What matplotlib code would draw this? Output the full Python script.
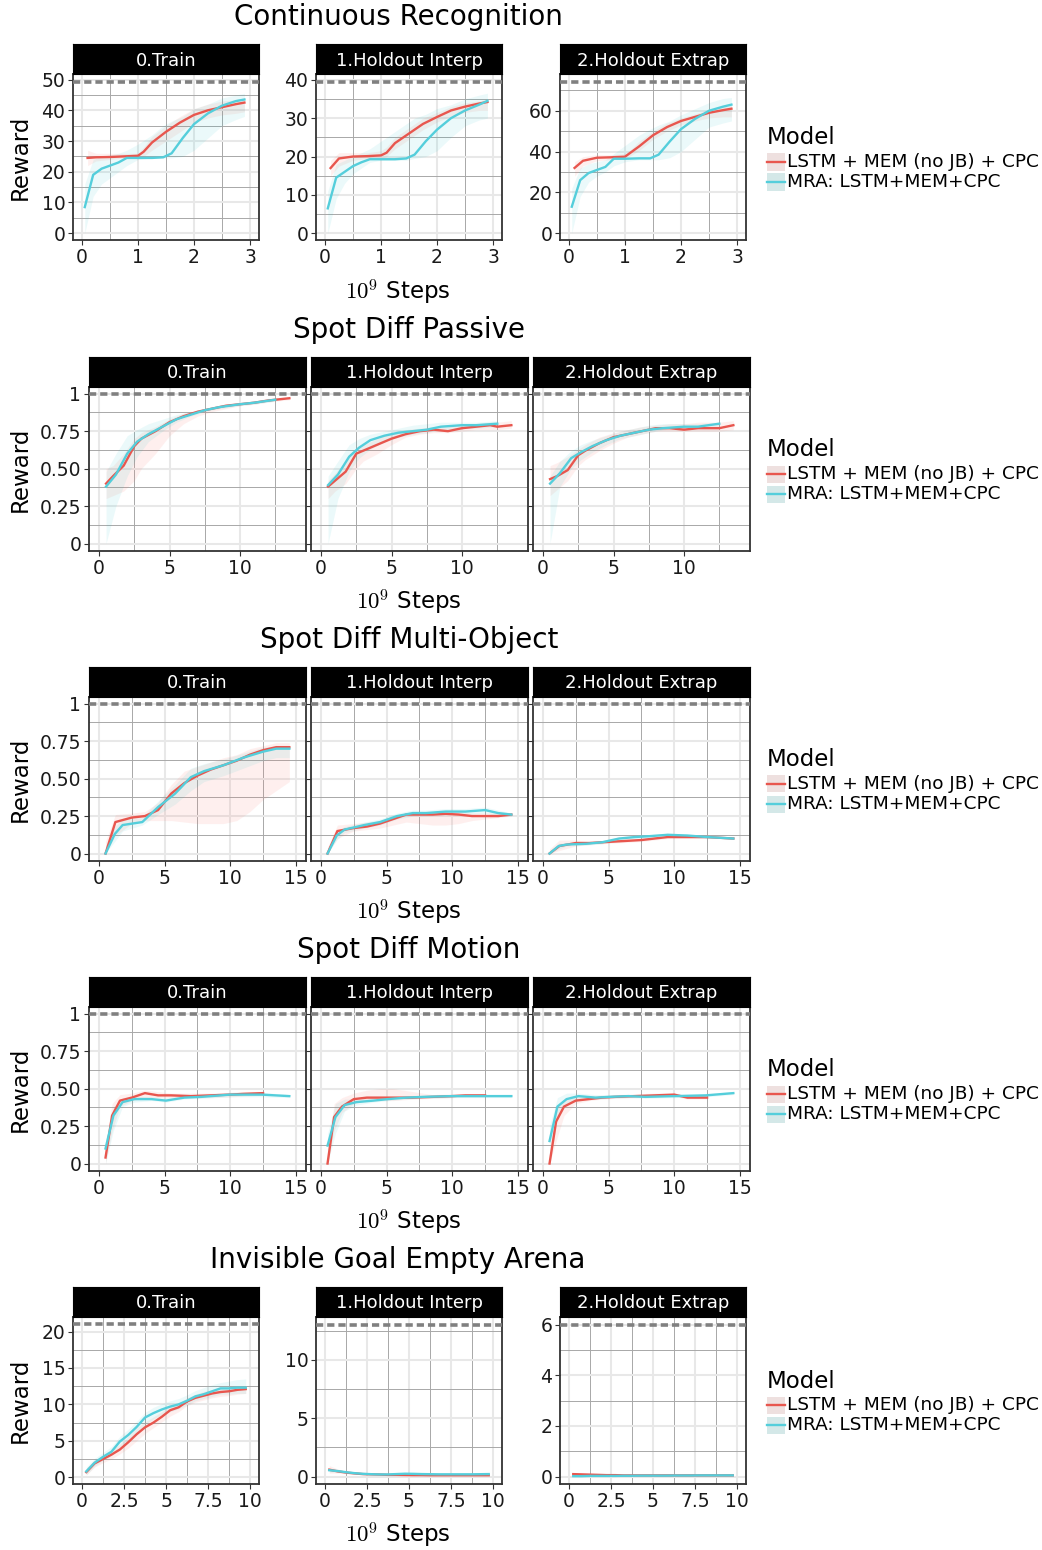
import matplotlib
matplotlib.use('Agg')
import matplotlib.pyplot as plt
from matplotlib.patches import Rectangle
from matplotlib.lines import Line2D

plt.rcParams.update({'font.family': 'DejaVu Sans', 'mathtext.fontset': 'cm'})

W, H = 1042, 1550
RED, CYAN = '#e8564e', '#54cedb'
RED_FILL, CYAN_FILL = '#f8766d', '#00bfc4'

models = ['LSTM + MEM (no JB) + CPC', 'MRA: LSTM+MEM+CPC']
facets = ['0.Train', '1.Holdout Interp', '2.Holdout Extrap']
tasks = ['Continuous Recognition', 'Spot Diff Passive', 'Spot Diff Multi-Object',
         'Spot Diff Motion', 'Invisible Goal Empty Arena']

# ---- Continuous Recognition ----
cr_x_red = [0.1, 0.25, 0.5, 0.75, 1.0, 1.1, 1.25, 1.5, 1.75, 2.0, 2.25, 2.5, 2.75, 2.9]
cr_x_cyan = [0.05, 0.2, 0.35, 0.5, 0.65, 0.8, 1.0, 1.25, 1.45, 1.6, 1.8, 2.0, 2.25, 2.5, 2.75, 2.9]
cr_ref = [49.2, 39.4, 74.0]

cr0_red = [24.5, 24.7, 24.8, 25.0, 25.2, 26.5, 29.5, 33, 36, 38.5, 40, 41, 42, 42.5]
cr0_red_lo = [22, 23.5, 24, 24.5, 24.5, 25, 27, 30, 33, 36, 37.5, 38.5, 39, 39.5]
cr0_red_hi = [27, 26, 26, 26, 26, 28, 31.5, 35, 38, 40.5, 42, 43, 43.5, 44]
cr0_cyan = [8.5, 19, 21, 22, 23, 24.5, 24.5, 24.5, 24.7, 26, 31, 35.5, 39, 41.5, 43, 43.5]
cr0_cyan_lo = [0, 12, 16, 18, 20, 22, 24, 24.5, 24.5, 24.5, 25, 27, 31, 35, 37, 38]
cr0_cyan_hi = [16, 24, 25, 25.5, 26, 27, 29, 32, 35, 36.5, 38, 40.5, 42, 44, 45, 45.5]

cr1_red = [17, 19.5, 20, 20.1, 20.3, 21, 23.5, 26, 28.5, 30.3, 32, 33, 33.8, 34.2]
cr1_red_lo = [15, 17.5, 19, 19.5, 19.5, 20, 22, 24.5, 27, 29, 30.5, 31.5, 32, 32]
cr1_red_hi = [19, 21, 21, 21, 21.5, 22.5, 25, 27.5, 30, 31.5, 33, 34, 34.5, 35]
cr1_cyan = [6.5, 14.5, 16, 17.5, 18.5, 19.3, 19.3, 19.3, 19.5, 20.5, 24, 27, 30, 32, 33.5, 34.5]
cr1_cyan_lo = [0, 9, 13, 15.5, 17, 18.5, 19, 19, 19, 19.5, 20, 21.5, 25, 28, 29.5, 30]
cr1_cyan_hi = [11, 18, 19, 20, 21, 22, 24, 26.5, 28.5, 30, 31, 32.5, 33.5, 35, 36, 36.5]

cr2_red = [32, 35.5, 37, 37.2, 37.5, 39.5, 42.5, 48, 52, 55, 57, 59, 60.3, 61]
cr2_red_lo = [28, 33, 35.5, 36, 36.5, 38, 40.5, 46, 50, 53, 55, 56.5, 57, 57]
cr2_red_hi = [35, 37.5, 38.5, 38.5, 39, 41, 45, 50, 54, 56.5, 58.5, 60.5, 62, 62.5]
cr2_cyan = [13, 26, 29.5, 31, 32.5, 36.5, 36.5, 36.7, 36.7, 38.5, 45, 51, 56, 60, 62, 63]
cr2_cyan_lo = [0, 18, 25, 28, 30, 33, 35, 36, 36, 36, 37, 40, 46, 52, 54, 55]
cr2_cyan_hi = [22, 32, 34, 35, 36, 39, 43, 48, 51, 53, 55, 58, 61, 64, 66, 66.5]

# ---- Spot Diff Passive ----
sdp_x_red = [0.5, 1, 1.75, 2.5, 3, 4, 5, 6, 7, 8, 9, 10, 11, 12, 12.5, 13.5]
sdp_x_cyan = [0.5, 1.2, 2, 2.7, 3.5, 4.5, 5.5, 6.5, 7.5, 8.5, 10, 11, 12.5]

sdp0_red = [0.40, 0.45, 0.52, 0.65, 0.70, 0.75, 0.81, 0.85, 0.88, 0.90, 0.92, 0.93, 0.94, 0.955, 0.96, 0.97]
sdp0_red_lo = [0.30, 0.32, 0.35, 0.42, 0.50, 0.60, 0.72, 0.80, 0.85, 0.88, 0.90, 0.92, 0.93, 0.945, 0.95, 0.96]
sdp0_red_hi = [0.50, 0.52, 0.60, 0.70, 0.74, 0.78, 0.83, 0.87, 0.89, 0.91, 0.93, 0.94, 0.95, 0.965, 0.97, 0.98]
sdp0_cyan = [0.38, 0.46, 0.60, 0.68, 0.73, 0.78, 0.83, 0.86, 0.89, 0.91, 0.93, 0.94, 0.96]
sdp0_cyan_lo = [0.0, 0.25, 0.45, 0.58, 0.68, 0.75, 0.81, 0.85, 0.88, 0.90, 0.92, 0.93, 0.95]
sdp0_cyan_hi = [0.48, 0.60, 0.72, 0.76, 0.80, 0.83, 0.86, 0.88, 0.90, 0.92, 0.94, 0.95, 0.97]

sdp1_red = [0.38, 0.42, 0.48, 0.60, 0.62, 0.66, 0.70, 0.73, 0.75, 0.76, 0.75, 0.77, 0.78, 0.79, 0.78, 0.79]
sdp1_red_lo = [0.30, 0.35, 0.40, 0.50, 0.55, 0.60, 0.66, 0.71, 0.73, 0.74, 0.74, 0.75, 0.76, 0.76, 0.76, 0.77]
sdp1_red_hi = [0.42, 0.47, 0.55, 0.64, 0.66, 0.70, 0.74, 0.76, 0.77, 0.78, 0.78, 0.79, 0.80, 0.81, 0.81, 0.82]
sdp1_cyan = [0.39, 0.46, 0.58, 0.64, 0.69, 0.72, 0.74, 0.75, 0.76, 0.78, 0.79, 0.79, 0.80]
sdp1_cyan_lo = [0.0, 0.30, 0.48, 0.57, 0.63, 0.68, 0.71, 0.73, 0.74, 0.76, 0.77, 0.77, 0.78]
sdp1_cyan_hi = [0.45, 0.55, 0.66, 0.70, 0.73, 0.75, 0.77, 0.79, 0.80, 0.81, 0.81, 0.81, 0.82]

sdp2_red = [0.43, 0.45, 0.49, 0.59, 0.62, 0.67, 0.71, 0.73, 0.75, 0.77, 0.77, 0.76, 0.77, 0.77, 0.77, 0.79]
sdp2_red_lo = [0.32, 0.36, 0.42, 0.52, 0.56, 0.62, 0.67, 0.71, 0.73, 0.75, 0.75, 0.75, 0.75, 0.75, 0.75, 0.76]
sdp2_red_hi = [0.52, 0.54, 0.58, 0.63, 0.66, 0.71, 0.74, 0.76, 0.78, 0.79, 0.80, 0.80, 0.81, 0.81, 0.81, 0.82]
sdp2_cyan = [0.40, 0.47, 0.57, 0.61, 0.65, 0.69, 0.72, 0.74, 0.76, 0.77, 0.78, 0.78, 0.80]
sdp2_cyan_lo = [0.0, 0.38, 0.50, 0.56, 0.61, 0.66, 0.70, 0.72, 0.74, 0.76, 0.77, 0.77, 0.78]
sdp2_cyan_hi = [0.45, 0.55, 0.62, 0.66, 0.69, 0.72, 0.75, 0.77, 0.79, 0.80, 0.80, 0.80, 0.81]

# ---- Spot Diff Multi-Object ----
sdm_x_red = [0.5, 1.25, 2.5, 3.5, 4.5, 5.5, 6.5, 7.5, 8.5, 9.5, 10.5, 11.5, 12.5, 13.5, 14.5]
sdm_x_cyan = [0.5, 1.2, 1.8, 3.3, 4.5, 5.8, 7.0, 8.0, 9.5, 11, 12.5, 13.5, 14.5]

sdm0_red = [0.0, 0.21, 0.24, 0.25, 0.29, 0.40, 0.47, 0.52, 0.56, 0.59, 0.62, 0.66, 0.69, 0.71, 0.71]
sdm0_red_lo = [0.0, 0.12, 0.20, 0.22, 0.22, 0.22, 0.21, 0.20, 0.20, 0.20, 0.22, 0.28, 0.36, 0.42, 0.48]
sdm0_red_hi = [0.08, 0.26, 0.27, 0.28, 0.34, 0.46, 0.55, 0.58, 0.61, 0.64, 0.66, 0.70, 0.72, 0.74, 0.74]
sdm0_cyan = [0.0, 0.13, 0.19, 0.21, 0.31, 0.40, 0.51, 0.55, 0.59, 0.64, 0.68, 0.70, 0.70]
sdm0_cyan_lo = [0.0, 0.08, 0.15, 0.19, 0.26, 0.33, 0.42, 0.48, 0.52, 0.57, 0.62, 0.64, 0.64]
sdm0_cyan_hi = [0.05, 0.18, 0.23, 0.24, 0.35, 0.46, 0.57, 0.60, 0.63, 0.67, 0.71, 0.72, 0.72]

sdm1_red = [0.0, 0.15, 0.17, 0.18, 0.20, 0.23, 0.26, 0.26, 0.26, 0.265, 0.26, 0.25, 0.25, 0.25, 0.26]
sdm1_red_lo = [0.0, 0.10, 0.15, 0.16, 0.17, 0.19, 0.21, 0.20, 0.19, 0.19, 0.20, 0.22, 0.23, 0.24, 0.25]
sdm1_red_hi = [0.04, 0.19, 0.20, 0.21, 0.22, 0.25, 0.27, 0.28, 0.28, 0.28, 0.28, 0.27, 0.27, 0.27, 0.27]
sdm1_cyan = [0.0, 0.12, 0.16, 0.19, 0.21, 0.25, 0.27, 0.27, 0.28, 0.28, 0.29, 0.27, 0.26]
sdm1_cyan_lo = [0.0, 0.09, 0.14, 0.17, 0.19, 0.23, 0.25, 0.25, 0.26, 0.26, 0.27, 0.25, 0.25]
sdm1_cyan_hi = [0.03, 0.15, 0.18, 0.21, 0.23, 0.27, 0.29, 0.29, 0.30, 0.30, 0.31, 0.29, 0.27]

sdm2_red = [0.0, 0.05, 0.07, 0.07, 0.075, 0.08, 0.085, 0.09, 0.10, 0.11, 0.11, 0.11, 0.11, 0.105, 0.10]
sdm2_red_lo = [0.0, 0.02, 0.05, 0.06, 0.065, 0.07, 0.075, 0.08, 0.09, 0.10, 0.10, 0.10, 0.10, 0.10, 0.095]
sdm2_red_hi = [0.03, 0.09, 0.09, 0.08, 0.085, 0.09, 0.095, 0.10, 0.11, 0.12, 0.12, 0.12, 0.12, 0.11, 0.105]
sdm2_cyan = [0.0, 0.05, 0.06, 0.065, 0.075, 0.10, 0.11, 0.115, 0.125, 0.12, 0.11, 0.105, 0.10]
sdm2_cyan_lo = [0.0, 0.03, 0.05, 0.055, 0.065, 0.09, 0.10, 0.105, 0.115, 0.11, 0.10, 0.10, 0.095]
sdm2_cyan_hi = [0.02, 0.07, 0.07, 0.075, 0.085, 0.11, 0.12, 0.125, 0.135, 0.13, 0.12, 0.11, 0.105]

# ---- Spot Diff Motion ----
sdmo_x_red = [0.5, 1.0, 1.6, 2.5, 3.5, 4.5, 5.5, 7, 8.5, 10, 11, 12.5]
sdmo_x_cyan = [0.5, 1.1, 1.8, 2.7, 4.0, 5.1, 6.5, 7.8, 10, 12.4, 14.5]

sdmo0_red = [0.04, 0.32, 0.42, 0.44, 0.47, 0.455, 0.455, 0.45, 0.455, 0.46, 0.465, 0.47]
sdmo0_red_lo = [0.0, 0.22, 0.38, 0.42, 0.44, 0.44, 0.44, 0.44, 0.44, 0.445, 0.45, 0.455]
sdmo0_red_hi = [0.12, 0.40, 0.46, 0.47, 0.49, 0.48, 0.47, 0.47, 0.47, 0.475, 0.48, 0.48]
sdmo0_cyan = [0.10, 0.32, 0.41, 0.43, 0.43, 0.42, 0.44, 0.445, 0.46, 0.46, 0.45]
sdmo0_cyan_lo = [0.0, 0.22, 0.38, 0.41, 0.42, 0.41, 0.43, 0.435, 0.445, 0.445, 0.44]
sdmo0_cyan_hi = [0.16, 0.38, 0.44, 0.45, 0.445, 0.44, 0.45, 0.46, 0.475, 0.475, 0.46]

sdmo1_red = [0.0, 0.31, 0.38, 0.43, 0.44, 0.44, 0.44, 0.44, 0.445, 0.45, 0.455, 0.455]
sdmo1_red_lo = [0.0, 0.22, 0.34, 0.40, 0.42, 0.42, 0.42, 0.43, 0.435, 0.44, 0.445, 0.445]
sdmo1_red_hi = [0.05, 0.40, 0.44, 0.47, 0.49, 0.50, 0.50, 0.48, 0.46, 0.465, 0.465, 0.465]
sdmo1_cyan = [0.12, 0.31, 0.39, 0.41, 0.42, 0.43, 0.44, 0.445, 0.45, 0.45, 0.45]
sdmo1_cyan_lo = [0.0, 0.20, 0.35, 0.39, 0.41, 0.42, 0.43, 0.435, 0.44, 0.44, 0.44]
sdmo1_cyan_hi = [0.20, 0.40, 0.43, 0.43, 0.44, 0.44, 0.45, 0.455, 0.46, 0.46, 0.46]

sdmo2_red = [0.0, 0.28, 0.38, 0.42, 0.43, 0.44, 0.445, 0.45, 0.455, 0.46, 0.44, 0.44]
sdmo2_red_lo = [0.0, 0.15, 0.32, 0.40, 0.42, 0.43, 0.435, 0.44, 0.445, 0.45, 0.43, 0.43]
sdmo2_red_hi = [0.05, 0.38, 0.43, 0.45, 0.45, 0.455, 0.46, 0.465, 0.47, 0.47, 0.45, 0.45]
sdmo2_cyan = [0.15, 0.38, 0.43, 0.45, 0.44, 0.445, 0.45, 0.445, 0.45, 0.455, 0.47]
sdmo2_cyan_lo = [0.0, 0.30, 0.40, 0.43, 0.43, 0.435, 0.44, 0.435, 0.44, 0.445, 0.46]
sdmo2_cyan_hi = [0.25, 0.44, 0.47, 0.47, 0.46, 0.46, 0.46, 0.455, 0.46, 0.465, 0.48]

# ---- Invisible Goal Empty Arena ----
ig_x = [0.25, 0.75, 1.25, 1.75, 2.25, 2.75, 3.25, 3.75, 4.25, 4.75,
        5.25, 5.75, 6.25, 6.75, 7.25, 7.75, 8.25, 8.75, 9.25, 9.75]
ig_ref = [21.0, 13.0, 6.0]

ig0_red = [0.7, 1.9, 2.5, 3.1, 3.8, 4.8, 5.9, 6.85, 7.5, 8.3, 9.2, 9.6, 10.4, 10.9, 11.2, 11.5, 11.7, 11.8, 12.0, 12.1]
ig0_red_lo = [0.3, 1.4, 2.0, 2.5, 3.2, 4.0, 5.0, 6.0, 6.8, 7.6, 8.4, 9.0, 9.8, 10.3, 10.6, 10.9, 11.1, 11.2, 11.4, 11.5]
ig0_red_hi = [1.2, 2.4, 3.0, 3.7, 4.5, 5.6, 6.8, 7.6, 8.3, 9.0, 9.8, 10.2, 10.9, 11.4, 11.8, 12.0, 12.2, 12.3, 12.5, 12.6]
ig0_cyan = [0.8, 2.0, 2.8, 3.5, 4.9, 5.8, 6.9, 8.2, 8.8, 9.3, 9.7, 10.0, 10.5, 11.1, 11.4, 11.8, 12.2, 12.2, 12.3, 12.3]
ig0_cyan_lo = [0.3, 1.5, 2.3, 3.0, 4.2, 5.1, 6.1, 7.2, 8.0, 8.6, 9.0, 9.4, 9.9, 10.5, 10.8, 11.1, 11.4, 11.4, 11.5, 11.5]
ig0_cyan_hi = [1.4, 2.6, 3.4, 4.2, 5.6, 6.6, 7.7, 8.9, 9.6, 10.1, 10.5, 10.8, 11.3, 11.9, 12.3, 12.7, 13.0, 13.2, 13.4, 13.5]

ig1_red = [0.6, 0.45, 0.35, 0.28, 0.22, 0.2, 0.18, 0.15, 0.15, 0.14, 0.13, 0.13, 0.12, 0.12, 0.12, 0.12, 0.12, 0.12, 0.12, 0.12]
ig1_red_lo = [0.3, 0.3, 0.25, 0.2, 0.16, 0.14, 0.12, 0.1, 0.1, 0.09, 0.08, 0.08, 0.07, 0.07, 0.07, 0.07, 0.07, 0.07, 0.07, 0.07]
ig1_red_hi = [0.95, 0.65, 0.45, 0.36, 0.28, 0.26, 0.24, 0.2, 0.2, 0.19, 0.18, 0.18, 0.17, 0.17, 0.17, 0.17, 0.17, 0.17, 0.17, 0.17]
ig1_cyan = [0.55, 0.48, 0.38, 0.3, 0.24, 0.21, 0.19, 0.19, 0.22, 0.25, 0.24, 0.22, 0.21, 0.2, 0.2, 0.2, 0.2, 0.2, 0.21, 0.22]
ig1_cyan_lo = [0.4, 0.38, 0.3, 0.23, 0.18, 0.16, 0.14, 0.14, 0.16, 0.19, 0.18, 0.17, 0.16, 0.15, 0.15, 0.15, 0.15, 0.15, 0.16, 0.17]
ig1_cyan_hi = [0.7, 0.58, 0.46, 0.37, 0.3, 0.26, 0.24, 0.24, 0.28, 0.31, 0.3, 0.27, 0.26, 0.25, 0.25, 0.25, 0.25, 0.25, 0.26, 0.27]

ig2_red = [0.1, 0.09, 0.08, 0.07, 0.06, 0.06, 0.05, 0.05, 0.05, 0.05, 0.05, 0.05, 0.05, 0.05, 0.05, 0.05, 0.05, 0.05, 0.05, 0.05]
ig2_red_lo = [0.07, 0.06, 0.05, 0.04, 0.03, 0.03, 0.03, 0.03, 0.03, 0.03, 0.03, 0.03, 0.03, 0.03, 0.03, 0.03, 0.03, 0.03, 0.03, 0.03]
ig2_red_hi = [0.13, 0.12, 0.11, 0.1, 0.09, 0.09, 0.08, 0.08, 0.08, 0.08, 0.08, 0.08, 0.08, 0.08, 0.08, 0.08, 0.08, 0.08, 0.08, 0.08]
ig2_cyan = [0.02, 0.02, 0.03, 0.03, 0.03, 0.03, 0.035, 0.035, 0.04, 0.04, 0.04, 0.04, 0.045, 0.045, 0.045, 0.05, 0.05, 0.05, 0.05, 0.05]
ig2_cyan_lo = [0.0, 0.0, 0.01, 0.01, 0.01, 0.01, 0.015, 0.015, 0.02, 0.02, 0.02, 0.02, 0.025, 0.025, 0.025, 0.03, 0.03, 0.03, 0.03, 0.03]
ig2_cyan_hi = [0.04, 0.04, 0.05, 0.05, 0.05, 0.05, 0.055, 0.055, 0.06, 0.06, 0.06, 0.06, 0.065, 0.065, 0.065, 0.07, 0.07, 0.07, 0.07, 0.07]

fig = plt.figure(figsize=(W / 100, H / 100), dpi=100)


def box(x0, y0, x1, y1):
    return [x0 / W, 1 - y1 / H, (x1 - x0) / W, (y1 - y0) / H]


def mids(t):
    step = t[1] - t[0]
    return [t[0] - step / 2] + [v + step / 2 for v in t]


def draw_panel(xs, top, bot, name, xlim, ylim, xt, xtl, yt, ytl, ref,
               xr, r, rlo, rhi, xc, c, clo, chi):
    ax = fig.add_axes(box(xs[0], top, xs[1], bot))
    ax.fill_between(xr, rlo, rhi, color=RED_FILL, alpha=0.11, lw=0, zorder=2)
    ax.fill_between(xc, clo, chi, color=CYAN_FILL, alpha=0.08, lw=0, zorder=2)
    ax.plot(xr, r, color=RED, lw=1.7, zorder=4)
    ax.plot(xc, c, color=CYAN, lw=1.7, zorder=4)
    ax.axhline(ref, color='#808080', lw=2.6, ls=(0, (2, 1.1)), zorder=5)
    ax.set_xticks(xt)
    ax.set_xticklabels(xtl)
    ax.set_yticks(yt)
    ax.set_yticklabels(ytl if ytl is not None else [])
    ax.set_xticks(mids(xt), minor=True)
    ax.set_yticks(mids(yt), minor=True)
    ax.set_xlim(xlim)
    ax.set_ylim(ylim)
    ax.grid(which='major', color='#e8e8e8', lw=1.5, zorder=0)
    ax.grid(which='minor', color='#a8a8a8', lw=0.7, zorder=1)
    ax.set_axisbelow(True)
    ax.tick_params(which='major', length=3.5, width=0.8, color='#333333',
                   labelsize=13.5, pad=2, labelcolor='#1a1a1a')
    ax.tick_params(which='minor', length=0)
    for s in ax.spines.values():
        s.set_color('#333333')
        s.set_linewidth(1.3)
    # facet strip
    st = fig.add_axes(box(xs[0], top - 30, xs[1], top))
    st.set_facecolor('black')
    st.set_xticks([])
    st.set_yticks([])
    for s in st.spines.values():
        s.set_color('black')
    st.text(0.5, 0.45, name, color='white', fontsize=13, ha='center', va='center',
            transform=st.transAxes)
    return ax


def legend(ytitle):
    fig.text(767 / W, 1 - ytitle / H, 'Model', fontsize=16.5, va='center', ha='left')
    for i, (m, col, fcol) in enumerate(zip(models, [RED, CYAN], [RED_FILL, CYAN_FILL])):
        yc = ytitle + 24 + 20 * i
        fig.patches.append(Rectangle((767 / W, 1 - (yc + 8.5) / H), 18 / W, 17 / H,
                                     transform=fig.transFigure, facecolor='#ededed',
                                     edgecolor='none'))
        fig.patches.append(Rectangle((767 / W, 1 - (yc + 8.5) / H), 18 / W, 17 / H,
                                     transform=fig.transFigure, facecolor=fcol, alpha=0.1,
                                     edgecolor='none'))
        fig.lines.append(Line2D([767 / W, 785 / W], [1 - yc / H, 1 - yc / H],
                                transform=fig.transFigure, color=col, lw=1.7))
        fig.text(787 / W, 1 - yc / H, m, fontsize=13.3, va='center', ha='left')


narrow = [(73, 259), (316, 502), (560, 746)]
wide = [(89, 306), (311, 528), (533, 750)]

# row geometry: (title y, title x, strip bottom, panel bottom, xlabel y, legend title y)
rows = [(17, 398, 74, 240, 292, 138),
        (330, 409, 387, 551, 602, 450),
        (640, 409, 697, 861, 912, 760),
        (950, 409, 1007, 1171, 1222, 1070),
        (1260, 398, 1317, 1484, 1535, 1381)]

frac_t = [0, 0.25, 0.5, 0.75, 1]
frac_l = ['0', '0.25', '0.50', '0.75', '1']

# Row 1
cr_panels = [(cr0_red, cr0_red_lo, cr0_red_hi, cr0_cyan, cr0_cyan_lo, cr0_cyan_hi),
             (cr1_red, cr1_red_lo, cr1_red_hi, cr1_cyan, cr1_cyan_lo, cr1_cyan_hi),
             (cr2_red, cr2_red_lo, cr2_red_hi, cr2_cyan, cr2_cyan_lo, cr2_cyan_hi)]
cr_ylims = [(-2.2, 51.8), (-1.74, 41.5), (-3.3, 78.0)]
cr_yticks = [[0, 10, 20, 30, 40, 50], [0, 10, 20, 30, 40], [0, 20, 40, 60]]
for i, p in enumerate(cr_panels):
    draw_panel(narrow[i], rows[0][2], rows[0][3], facets[i], (-0.16, 3.16), cr_ylims[i],
               [0, 1, 2, 3], ['0', '1', '2', '3'], cr_yticks[i],
               [str(v) for v in cr_yticks[i]], cr_ref[i],
               cr_x_red, p[0], p[1], p[2], cr_x_cyan, p[3], p[4], p[5])

# Rows 2-4 (shared y)
shared = [
    (sdp_x_red, sdp_x_cyan, (-0.71, 14.68), [0, 5, 10], [
        (sdp0_red, sdp0_red_lo, sdp0_red_hi, sdp0_cyan, sdp0_cyan_lo, sdp0_cyan_hi),
        (sdp1_red, sdp1_red_lo, sdp1_red_hi, sdp1_cyan, sdp1_cyan_lo, sdp1_cyan_hi),
        (sdp2_red, sdp2_red_lo, sdp2_red_hi, sdp2_cyan, sdp2_cyan_lo, sdp2_cyan_hi)]),
    (sdm_x_red, sdm_x_cyan, (-0.76, 15.77), [0, 5, 10, 15], [
        (sdm0_red, sdm0_red_lo, sdm0_red_hi, sdm0_cyan, sdm0_cyan_lo, sdm0_cyan_hi),
        (sdm1_red, sdm1_red_lo, sdm1_red_hi, sdm1_cyan, sdm1_cyan_lo, sdm1_cyan_hi),
        (sdm2_red, sdm2_red_lo, sdm2_red_hi, sdm2_cyan, sdm2_cyan_lo, sdm2_cyan_hi)]),
    (sdmo_x_red, sdmo_x_cyan, (-0.76, 15.77), [0, 5, 10, 15], [
        (sdmo0_red, sdmo0_red_lo, sdmo0_red_hi, sdmo0_cyan, sdmo0_cyan_lo, sdmo0_cyan_hi),
        (sdmo1_red, sdmo1_red_lo, sdmo1_red_hi, sdmo1_cyan, sdmo1_cyan_lo, sdmo1_cyan_hi),
        (sdmo2_red, sdmo2_red_lo, sdmo2_red_hi, sdmo2_cyan, sdmo2_cyan_lo, sdmo2_cyan_hi)]),
]
for k, (xr, xc, xl, xt, panels) in enumerate(shared):
    row = rows[k + 1]
    for i, p in enumerate(panels):
        draw_panel(wide[i], row[2], row[3], facets[i], xl, (-0.05, 1.045),
                   xt, [str(v) for v in xt], frac_t, frac_l if i == 0 else None, 1.0,
                   xr, p[0], p[1], p[2], xc, p[3], p[4], p[5])

# Row 5
ig_panels = [(ig0_red, ig0_red_lo, ig0_red_hi, ig0_cyan, ig0_cyan_lo, ig0_cyan_hi),
             (ig1_red, ig1_red_lo, ig1_red_hi, ig1_cyan, ig1_cyan_lo, ig1_cyan_hi),
             (ig2_red, ig2_red_lo, ig2_red_hi, ig2_cyan, ig2_cyan_lo, ig2_cyan_hi)]
ig_ylims = [(-0.93, 22.0), (-0.63, 13.67), (-0.29, 6.3)]
ig_yticks = [[0, 5, 10, 15, 20], [0, 5, 10], [0, 2, 4, 6]]
for i, p in enumerate(ig_panels):
    draw_panel(narrow[i], rows[4][2], rows[4][3], facets[i], (-0.54, 10.54), ig_ylims[i],
               [0, 2.5, 5, 7.5, 10], ['0', '2.5', '5', '7.5', '10'], ig_yticks[i],
               [str(v) for v in ig_yticks[i]], ig_ref[i],
               ig_x, p[0], p[1], p[2], ig_x, p[3], p[4], p[5])

for t, row in zip(tasks, rows):
    ty, tx, top, bot, xly, lgy = row
    fig.text(tx / W, 1 - ty / H, t, fontsize=20, ha='center', va='center')
    fig.text(tx / W, 1 - xly / H, r'$10^9$ Steps', fontsize=16.5, ha='center', va='center')
    fig.text(20 / W, 1 - (top + bot) / 2 / H, 'Reward', fontsize=16.5, rotation=90,
             ha='center', va='center')
    legend(lgy)

fig.savefig('out.png', dpi=100)
